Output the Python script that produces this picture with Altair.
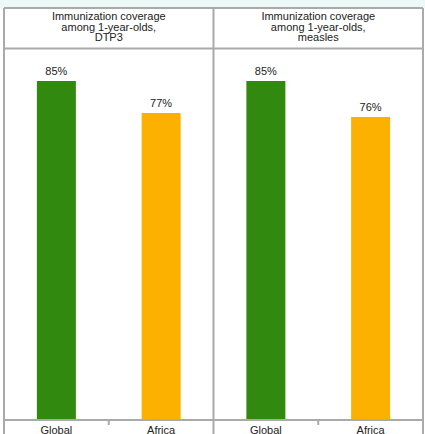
import altair as alt
import pandas as pd

indicators = ["DTP3", "measles"]
categories = ["Global", "Africa"]
dtp3_values = [85, 77]
measles_values = [85, 76]
header_lines = ["Immunization coverage", "among 1-year-olds,"]
bar_colors = ["#31890f", "#fcb100"]

rows = []
for ind, vals in zip(indicators, [dtp3_values, measles_values]):
    for cat, v in zip(categories, vals):
        rows.append({"indicator": ind, "category": cat, "key": ind + "|" + cat,
                     "value": v, "label": f"{v}%",
                     "header": "\n".join(header_lines + [ind])})
df = pd.DataFrame(rows)
keys = list(df["key"])

FONT = "Liberation Sans"
LINE = "#aaaaaa"

xscale = alt.Scale(domain=keys, paddingInner=0, paddingOuter=0)
xaxis = alt.Axis(title=None, ticks=False, domain=False, labelAngle=0,
                 labelExpr="split(datum.value, '|')[1]", labelPadding=4,
                 labelFontSize=11, labelFont=FONT, labelColor="#222222")
x_mid = alt.X("key:N", sort=keys, scale=xscale, axis=xaxis)
x_edge = alt.X("key:N", sort=keys, scale=xscale, axis=xaxis, bandPosition=0)
yscale = alt.Scale(domain=[0, 103.3], nice=False, zero=True)

base = alt.Chart(df)
one = alt.Chart(pd.DataFrame({"a": [0]}))

strip = one.mark_rect(color="#edf9f6").encode(
    x=alt.value(-4), x2=alt.value(421), y=alt.value(-8), y2=alt.value(0))

bars = base.mark_bar(size=39).encode(
    x=x_mid,
    y=alt.Y("value:Q", scale=yscale, axis=None),
    color=alt.Color("category:N", scale=alt.Scale(domain=categories, range=bar_colors), legend=None),
)

vlabels = base.mark_text(baseline="bottom", dy=-4, fontSize=11, font=FONT, color="#222222").encode(
    x=x_mid, y=alt.Y("value:Q", scale=yscale, axis=None), text="label:N")

africa = base.transform_filter("datum.category == 'Africa'")
headers = africa.mark_text(baseline="top", align="center", fontSize=11, font=FONT,
                           color="#222222", lineBreak="\n", lineHeight=10.5).encode(
    x=x_edge, y=alt.value(3), text="header:N")

ticks = africa.mark_rule(color=LINE, strokeWidth=2).encode(
    x=x_edge, y=alt.value(412), y2=alt.value(417))

divider = base.transform_filter("datum.key == 'measles|Global'").mark_rule(
    color=LINE, strokeWidth=2).encode(x=x_edge, y=alt.value(0), y2=alt.value(430))

left = one.mark_rule(color=LINE, strokeWidth=2).encode(
    x=alt.value(0), y=alt.value(0), y2=alt.value(430))
right = one.mark_rule(color=LINE, strokeWidth=2).encode(
    x=alt.value(419), y=alt.value(0), y2=alt.value(430))
top = one.mark_rule(color=LINE, strokeWidth=2).encode(
    x=alt.value(0), x2=alt.value(419), y=alt.value(0))
hdr = one.mark_rule(color=LINE, strokeWidth=2).encode(
    x=alt.value(0), x2=alt.value(419), y=alt.value(40.5))
bottom = one.mark_rule(color=LINE, strokeWidth=2).encode(
    x=alt.value(0), x2=alt.value(419), y=alt.value(412))

chart = alt.layer(strip, bars, vlabels, headers, ticks, divider, left, right, top, hdr, bottom).properties(
    width=419, height=412,
    autosize=alt.AutoSizeParams(type="none"),
    padding={"left": 4, "top": 8, "right": 2, "bottom": 14},
    background="white",
).configure_view(stroke=None)

chart.save("out.html", embed_options={"renderer": "svg", "actions": False})
